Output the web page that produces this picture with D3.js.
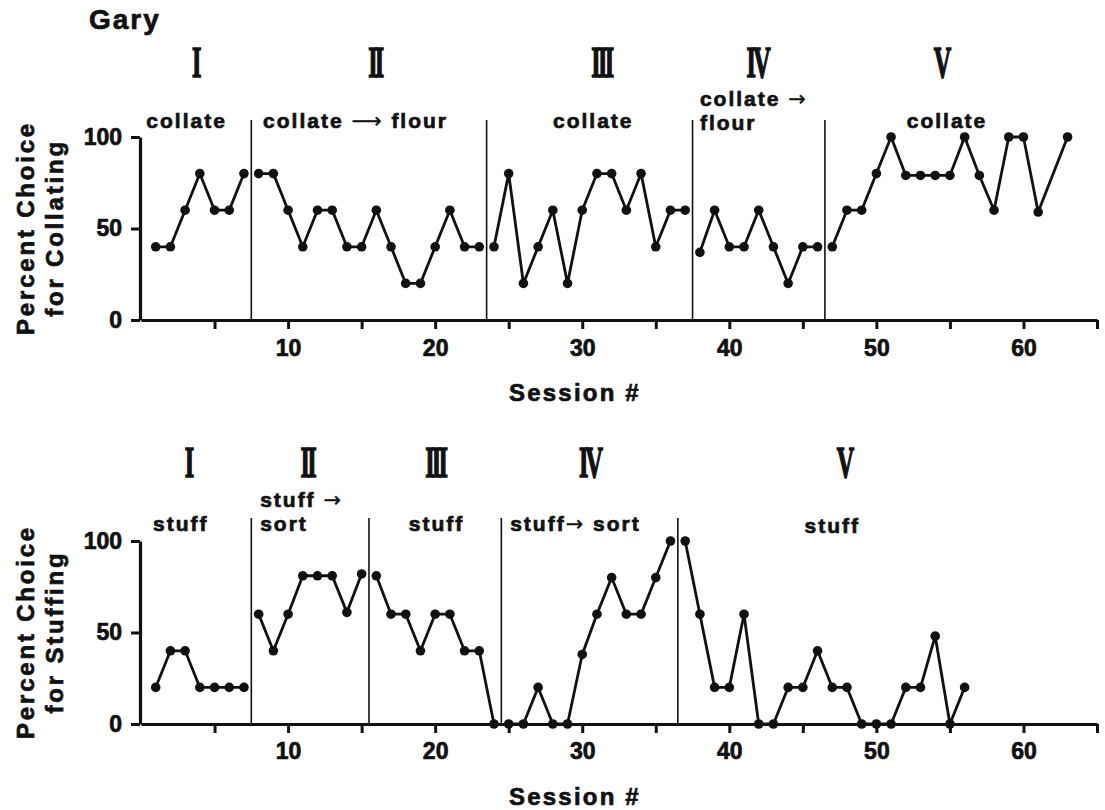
<!DOCTYPE html>
<html>
<head>
<meta charset="utf-8">
<script src="https://cdn.jsdelivr.net/npm/d3@7"></script>
<style>
  body { margin: 0; background: #fff; }
  text { font-family: "Liberation Sans", Arial, sans-serif; font-weight: bold; fill: #111; stroke: #111; stroke-width: 0.7px; }
  .numeral { font-family: "Liberation Serif", "DejaVu Serif", serif; stroke-width: 1.6px; }
  .arrow { font-family: "DejaVu Sans", sans-serif; font-weight: normal; stroke-width: 0.3px; }
</style>
</head>
<body>
<div id="chart"></div>
<script>
// Data (Gary)
var collateSessions = [1, 2, 3, 4, 5, 6, 7,
    8, 9, 10, 11, 12, 13, 14, 15, 16, 17, 18, 19, 20, 21, 22, 23,
    24, 25, 26, 27, 28, 29, 30, 31, 32, 33, 34, 35, 36, 37,
    38, 39, 40, 41, 42, 43, 44, 45, 46,
    47, 48, 49, 50, 51, 52, 53, 54, 55, 56, 57, 58, 59, 60, 61, 63];
var collateValues = [40, 40, 60, 80, 60, 60, 80,
    80, 80, 60, 40, 60, 60, 40, 40, 60, 40, 20, 20, 40, 60, 40, 40,
    40, 80, 20, 40, 60, 20, 60, 80, 80, 60, 80, 40, 60, 60,
    37, 60, 40, 40, 60, 40, 20, 40, 40,
    40, 60, 60, 80, 100, 79, 79, 79, 79, 100, 79, 60, 100, 100, 59, 100];

var stuffSessions = [1, 2, 3, 4, 5, 6, 7,
    8, 9, 10, 11, 12, 13, 14, 15,
    16, 17, 18, 19, 20, 21, 22, 23, 24,
    25, 26, 27, 28, 29, 30, 31, 32, 33, 34, 35, 36,
    37, 38, 39, 40, 41, 42, 43, 44, 45, 46, 47, 48, 49, 50, 51, 52, 53, 54, 55, 56];
var stuffValues = [20, 40, 40, 20, 20, 20, 20,
    60, 40, 60, 81, 81, 81, 61, 82,
    81, 60, 60, 40, 60, 60, 40, 40, 0,
    0, 0, 20, 0, 0, 38, 60, 80, 60, 60, 80, 100,
    100, 60, 20, 20, 60, 0, 0, 20, 20, 40, 20, 20, 0, 0, 0, 20, 20, 48, 0, 20];

// Phase change lines (between sessions)
var collateBreaks = [7.5, 23.5, 37.5, 46.5];
var stuffBreaks = [7.5, 15.5, 24.5, 36.5];

var phaseNumerals = ["I", "II", "III", "IV", "V"];
var collateLabels = [["collate"], ["collate \u27F6 flour"], ["collate"], ["collate \u2192", "flour"], ["collate"]];
var stuffLabels = [["stuff"], ["stuff \u2192", "sort"], ["stuff"], ["stuff\u2192 sort"], ["stuff"]];

var xTicks = [5, 10, 15, 20, 25, 30, 35, 40, 45, 50, 55, 60, 65];
var yTicks = [0, 50, 100];

var svgWidth = 1105;
var svgHeight = 810;

var svg = d3.select("#chart")
    .append("svg")
    .attr("width", svgWidth)
    .attr("height", svgHeight);

svg.append("rect").attr("width", svgWidth).attr("height", svgHeight).attr("fill", "#fff");

// shared session scale
var xScale = d3.scaleLinear().domain([0, 65]).range([141, 1097]);

svg.append("text")
    .attr("x", 89).attr("y", 29)
    .attr("font-size", 28)
    .attr("letter-spacing", 2)
    .text("Gary");

// put arrows in a font that has a proper long arrow
function addLabel(sel, str) {
    str.split(/([\u2192\u27F6])/).forEach(part => {
        if (!part) return;
        var t = sel.append("tspan").text(part);
        if (part === "\u2192" || part === "\u27F6") t.attr("class", "arrow");
    });
}

function drawPanel(p) {
    var yScale = d3.scaleLinear().domain([0, 100]).range([p.base, p.base - 183]);
    var g = svg.append("g");

    // y axis
    var yAxis = g.append("g")
        .attr("transform", "translate(140,0)")
        .call(d3.axisLeft(yScale).tickValues(yTicks).tickSize(9).tickSizeOuter(0).tickPadding(9));
    yAxis.selectAll("text").attr("font-size", 23).attr("font-family", "Liberation Sans").attr("font-weight", "bold");

    // x axis
    var xAxis = g.append("g")
        .attr("transform", `translate(0,${p.base})`)
        .call(d3.axisBottom(xScale).tickValues(xTicks).tickSize(9).tickSizeOuter(0).tickPadding(p.xPad)
            .tickFormat(d => (d % 10 === 0 && d <= 60) ? d : ""));
    xAxis.selectAll("text").attr("font-size", 23).attr("font-family", "Liberation Sans").attr("font-weight", "bold");

    g.selectAll(".domain").attr("stroke", "#111").attr("stroke-width", 3.2);
    g.selectAll(".tick line").attr("stroke", "#111").attr("stroke-width", 3);

    // phase dividers
    g.selectAll(".divider")
        .data(p.breaks)
        .enter()
        .append("line")
        .attr("x1", d => xScale(d)).attr("x2", d => xScale(d))
        .attr("y1", p.base).attr("y2", p.divTop)
        .attr("stroke", "#111")
        .attr("stroke-width", 1.6);

    // roman numerals
    g.selectAll(".numeral")
        .data(phaseNumerals)
        .enter()
        .append("text")
        .attr("class", "numeral")
        .attr("text-anchor", "middle")
        .attr("font-size", 44)
        .attr("letter-spacing", -5)
        .attr("transform", (d, i) => `translate(${xScale(p.numeralX[i])},${p.numeralY}) scale(0.55,1)`)
        .text(d => d);

    // phase labels
    p.labels.forEach((lines, i) => {
        var pos = p.labelPos[i];
        lines.forEach((line, j) => {
            var t = g.append("text")
                .attr("x", xScale(pos.x))
                .attr("y", pos.y + (j - lines.length + 1) * 24)
                .attr("text-anchor", pos.anchor)
                .attr("font-size", 21)
                .attr("letter-spacing", 2);
            addLabel(t, line);
        });
    });

    // data, one broken line per phase
    var points = p.sessions.map((s, i) => ({ session: s, value: p.values[i], phase: d3.bisect(p.breaks, s) }));
    var line = d3.line()
        .x(d => xScale(d.session))
        .y(d => yScale(d.value));

    g.selectAll(".seg")
        .data(Array.from(d3.group(points, d => d.phase).values()))
        .enter()
        .append("path")
        .attr("d", line)
        .attr("fill", "none")
        .attr("stroke", "#111")
        .attr("stroke-width", 2.8)
        .attr("stroke-linejoin", "round");

    g.selectAll(".dot")
        .data(points)
        .enter()
        .append("circle")
        .attr("cx", d => xScale(d.session))
        .attr("cy", d => yScale(d.value))
        .attr("r", 4.8)
        .attr("fill", "#111");

    // axis titles
    g.append("text")
        .attr("x", 575).attr("y", p.base + 81)
        .attr("text-anchor", "middle")
        .attr("font-size", 24)
        .attr("letter-spacing", 2.2)
        .text("Session #");

    p.yLabel.forEach((t, i) => {
        g.append("text")
            .attr("transform", `translate(${34 + i * 29},${p.base - 92}) rotate(-90)`)
            .attr("text-anchor", "middle")
            .attr("font-size", 24)
            .attr("letter-spacing", 2.8)
            .text(t);
    });
}

drawPanel({
    base: 320, divTop: 120, xPad: 11,
    sessions: collateSessions, values: collateValues, breaks: collateBreaks,
    numeralX: [3.7, 15.9, 31.3, 41.9, 54.4], numeralY: 77,
    labels: collateLabels,
    labelPos: [
        { x: 3.1, y: 128, anchor: "middle" },
        { x: 8.3, y: 128, anchor: "start" },
        { x: 30.75, y: 128, anchor: "middle" },
        { x: 38.0, y: 130, anchor: "start" },
        { x: 54.8, y: 128, anchor: "middle" }
    ],
    yLabel: ["Percent Choice", "for Collating"]
});

drawPanel({
    base: 724, divTop: 518, xPad: 10,
    sessions: stuffSessions, values: stuffValues, breaks: stuffBreaks,
    numeralX: [3.2, 11.3, 20.0, 30.5, 47.8], numeralY: 477,
    labels: stuffLabels,
    labelPos: [
        { x: 2.7, y: 531, anchor: "middle" },
        { x: 8.1, y: 531, anchor: "start" },
        { x: 20.1, y: 531, anchor: "middle" },
        { x: 25.1, y: 531, anchor: "start" },
        { x: 47.0, y: 533, anchor: "middle" }
    ],
    yLabel: ["Percent Choice", "for Stuffing"]
});
</script>
</body>
</html>
